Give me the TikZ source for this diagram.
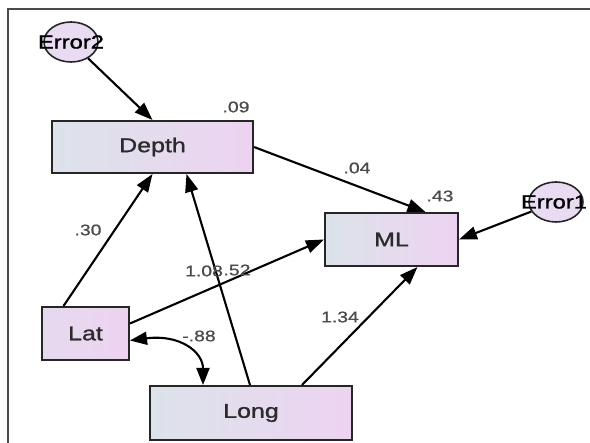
\documentclass[tikz,border=0pt]{standalone}
\usepackage{fontspec}
\setmainfont{Liberation Sans}[FakeStretch=1.25]
\newfontfamily\heavylab{Liberation Sans}[FakeStretch=1.25,FakeBold=1.2]
\newfontfamily\heavynum{Liberation Sans}[FakeStretch=1.25,FakeBold=0.8]
\usetikzlibrary{arrows.meta,shapes.geometric}

\definecolor{boxL}{HTML}{DCE3EA}
\definecolor{boxR}{HTML}{EDD3F1}
\definecolor{latL}{HTML}{E5D9EE}
\definecolor{boxline}{HTML}{262626}
\definecolor{labtxt}{HTML}{2B2B2B}
\definecolor{numtxt}{HTML}{4A4A4A}
\definecolor{errfill}{HTML}{E9DCF2}
\definecolor{framec}{HTML}{4A4A4A}

\tikzset{
  var/.style={rectangle, draw=boxline, line width=2pt, left color=boxL, right color=boxR,
    font=\heavylab\fontsize{20}{23}\selectfont, text=labtxt, inner sep=0pt},
  err/.style={ellipse, draw=boxline, line width=1.6pt, fill=errfill,
    minimum width=54pt, minimum height=40pt, inner sep=0pt},
  errtxt/.style={font=\heavylab\fontsize{19}{22}\selectfont, text=black, inner sep=0pt},
  num/.style={font=\heavynum\fontsize{15.5}{18}\selectfont, text=numtxt, inner sep=0pt},
  arr/.style={draw=black, line width=2.1pt, -{Triangle[length=18pt,width=13pt]}},
  dblarr/.style={draw=black, line width=2.1pt, {Triangle[length=17pt,width=13pt]}-{Triangle[length=17pt,width=13pt]}},
}

\begin{document}
\begin{tikzpicture}[x=1pt,y=-1pt]
\useasboundingbox (0,0) rectangle (590,443);

% outer frame (top and left edges)
\draw[framec, line width=2.2pt] (8,443) -- (8,9) -- (590,9);

% observed variables
\node[var, minimum width=201pt, minimum height=52pt] (depth) at (152.5,147) {Depth};
\node[var, minimum width=133pt, minimum height=53pt] (ml) at (391.5,239.5) {ML};
\node[var, left color=latL, minimum width=87pt, minimum height=53pt] (lat) at (85.5,333.5) {Lat};
\node[var, minimum width=202pt, minimum height=54pt] (long) at (251,413) {Long};

% error terms
\node[err] (err2) at (71,42) {};
\node[errtxt] (err2lab) at (err2) {Error2};
\node[err] (err1) at (556,202) {};
\node[errtxt] (err1lab) at (554,202) {Error1};

% regression paths
\draw[arr] (err2) -- (depth.north);
\draw[arr] (depth.east) -- ([xshift=34pt]ml.north);
\draw[arr] (err1) -- (ml.east);
\draw[arr] ([xshift=-22pt]lat.north) -- (depth.south);
\draw[arr] ([xshift=-1pt]long.north) -- ([xshift=34pt]depth.south);
\draw[arr] ([yshift=10pt]lat.east) -- (ml.west);
\draw[arr] ([xshift=51pt]long.north) -- ([xshift=26pt]ml.south);

% covariance
\draw[dblarr] ([yshift=-7pt]lat.east) .. controls (180,334) and (203,352) .. ([xshift=-48pt]long.north);

% coefficients
\node[num] (r2depth) at (236,107) {.09};
\node[num] (r2ml) at (440,196) {.43};
\node[num] (cdm) at (357,168) {.04};
\node[num] (cld) at (88,230) {.30};
\node[num] (clongd) at (204,271) {1.08};
\node[num] (clm) at (237,270) {.52};
\node[num] (cov) at (199,336) {-.88};
\node[num] (clongm) at (340,317) {1.34};
\end{tikzpicture}
\end{document}
